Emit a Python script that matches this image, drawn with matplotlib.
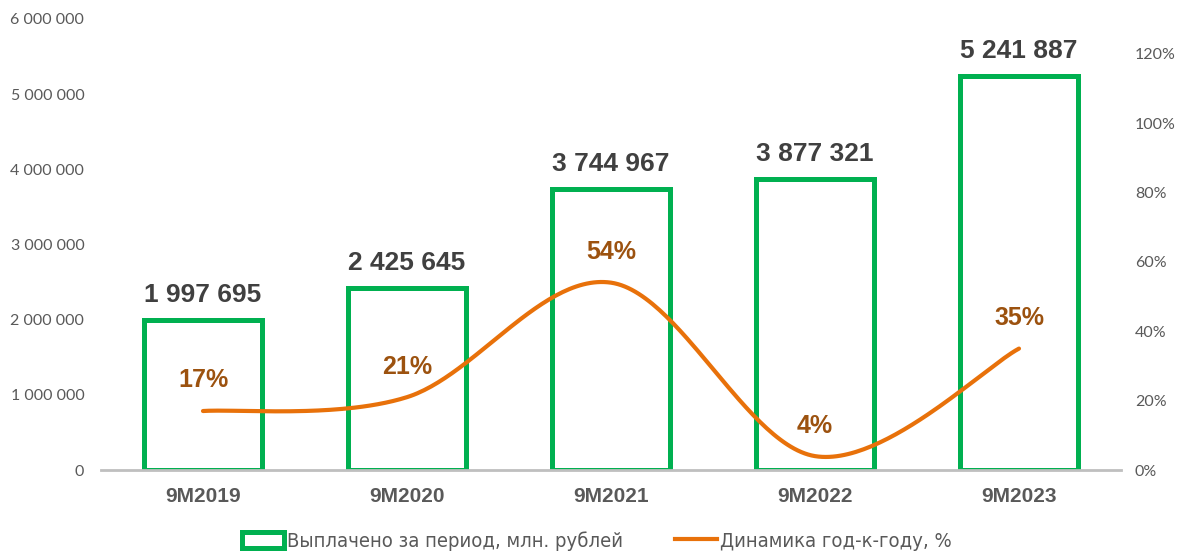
import numpy as np
import matplotlib
matplotlib.use("Agg")
import matplotlib.pyplot as plt
from matplotlib.patches import Patch
from matplotlib.lines import Line2D
from matplotlib.ticker import FuncFormatter, MultipleLocator
from matplotlib.font_manager import FontProperties

categories = ["9M2019", "9M2020", "9M2021", "9M2022", "9M2023"]
payouts = [1997695, 2425645, 3744967, 3877321, 5241887]
growth = [0.17, 0.21, 0.54, 0.04, 0.35]
growth_labels = ["17%", "21%", "54%", "4%", "35%"]
legend_labels = ["Выплачено за период, млн. рублей", "Динамика год-к-году, %"]

GREEN = "#00B050"
ORANGE = "#E8710A"
BROWN = "#9C520F"
DARK = "#404040"
GRAY = "#595959"


def fmt_space(v):
    return f"{int(round(v)):,}".replace(",", " ")


def smooth(xs, ys, n=60):
    pts = np.column_stack([xs, ys]).astype(float)
    out = []
    m = len(pts)
    for i in range(m - 1):
        p0 = pts[i - 1] if i > 0 else pts[i]
        p1 = pts[i]
        p2 = pts[i + 1]
        p3 = pts[i + 2] if i + 2 < m else pts[i + 1]
        b1 = p1 + (p2 - p0) / 6.0
        b2 = p2 - (p3 - p1) / 6.0
        t = np.linspace(0, 1, n)[:, None]
        seg = ((1 - t) ** 3) * p1 + 3 * ((1 - t) ** 2) * t * b1 + 3 * (1 - t) * t ** 2 * b2 + t ** 3 * p2
        out.append(seg if i == 0 else seg[1:])
    arr = np.vstack(out)
    return arr[:, 0], arr[:, 1]


fig = plt.figure(figsize=(11.89, 5.57), dpi=100)
ax = fig.add_axes([101 / 1189, 1 - 470 / 557, 1020 / 1189, 451 / 557])
x = np.arange(len(categories))

ax.bar(x, payouts, width=0.58, facecolor="white", edgecolor=GREEN, linewidth=3.6, zorder=2)
ax.set_xlim(-0.5, len(categories) - 0.5)
ax.set_ylim(0, 6000000)
ax.yaxis.set_major_locator(MultipleLocator(1000000))
ax.yaxis.set_major_formatter(FuncFormatter(lambda v, p: fmt_space(v)))
for s in ["top", "right", "left"]:
    ax.spines[s].set_visible(False)
ax.spines["bottom"].set_color("#BFBFBF")
ax.spines["bottom"].set_linewidth(2)
ax.tick_params(axis="both", length=0)
ax.tick_params(axis="y", labelsize=11.5, labelcolor=GRAY, pad=12)
for lab in ax.get_yticklabels():
    lab.set_family("Lato")
ax.set_xticks(x)
ax.set_xticklabels(categories, fontsize=15, fontweight="bold", color=GRAY, family="Liberation Sans")
ax.tick_params(axis="x", pad=12)

for xi, v in zip(x, payouts):
    ax.annotate(fmt_space(v), (xi, v), xytext=(0, 18), textcoords="offset points",
                ha="center", va="center", fontsize=19, fontweight="bold", color=DARK,
                family="Liberation Sans")

ax2 = ax.twinx()
ax2.set_ylim(0, 1.3)
ax2.set_yticks(np.arange(0, 1.21, 0.2))
ax2.yaxis.set_major_formatter(FuncFormatter(lambda v, p: f"{v * 100:.0f}%"))
for s in ["top", "right", "left", "bottom"]:
    ax2.spines[s].set_visible(False)
ax2.tick_params(axis="y", length=0, labelsize=11.5, labelcolor=GRAY, pad=10)
for lab in ax2.get_yticklabels():
    lab.set_family("Lato")

sx, sy = smooth(x, growth)
ax2.plot(sx, sy, color=ORANGE, linewidth=3, solid_capstyle="round", zorder=3)
for xi, v, t in zip(x, growth, growth_labels):
    ax2.annotate(t, (xi, v), xytext=(0, 22), textcoords="offset points",
                 ha="center", va="center", fontsize=18, fontweight="bold", color=BROWN,
                 family="Liberation Sans")

handles = [Patch(facecolor="white", edgecolor=GREEN, linewidth=3.6),
           Line2D([0], [0], color=ORANGE, linewidth=3)]
lprop = FontProperties(family="DejaVu Sans", stretch="condensed", size=14.5)
leg = fig.legend(handles, legend_labels, loc="center", bbox_to_anchor=(0.502, 1 - 541 / 557),
                 ncol=2, frameon=False, handlelength=2.1, handleheight=0.9, handletextpad=0.15,
                 columnspacing=2.6, prop=lprop)
for t in leg.get_texts():
    t.set_color(GRAY)

fig.savefig("out.png", dpi=100)
